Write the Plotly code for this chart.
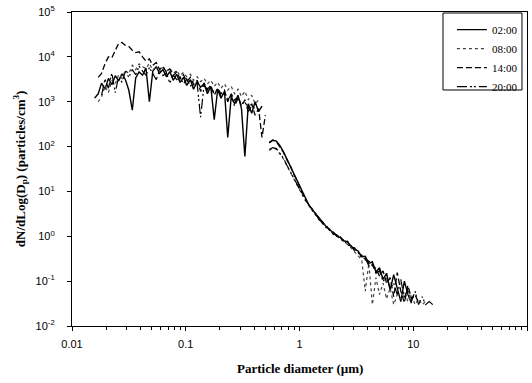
import plotly.graph_objects as go

# Mobility (SMPS) channel diameters, um
d_smps = [0.0158, 0.0170, 0.0182, 0.0195, 0.0209, 0.0224, 0.0240, 0.0257, 0.0275, 0.0295,
          0.0316, 0.0339, 0.0363, 0.0389, 0.0417, 0.0447, 0.0479, 0.0513, 0.0550, 0.0589,
          0.0631, 0.0676, 0.0724, 0.0776, 0.0832, 0.0891, 0.0955, 0.102, 0.110, 0.117,
          0.126, 0.135, 0.145, 0.155, 0.166, 0.178, 0.191, 0.204, 0.219, 0.234,
          0.251, 0.269, 0.288, 0.309, 0.331, 0.355, 0.380, 0.407, 0.437, 0.468, 0.501]

# Aerodynamic (APS) channel diameters, um
d_aps = [0.542, 0.583, 0.626, 0.673, 0.723, 0.777, 0.835, 0.898, 0.965, 1.037,
         1.114, 1.197, 1.286, 1.382, 1.486, 1.596, 1.715, 1.843, 1.981, 2.129,
         2.288, 2.458, 2.642, 2.839, 3.051, 3.278, 3.523, 3.786, 4.068, 4.371,
         4.698, 5.048, 5.425, 5.829, 6.264, 6.732, 7.234, 7.774, 8.354, 8.977,
         9.647, 10.37, 11.14, 11.97, 12.86, 13.82, 14.86]

# dN/dlogDp, particles/cm3
n02_smps = [1200, 1500, 2600, 1900, 3300, 2400, 3800, 2900, 4200, 3100,
            1800, 650, 3400, 4600, 3900, 5600, 1000, 4800, 6000, 4300,
            5200, 3600, 4700, 3000, 4100, 2700, 3500, 2300, 3100, 1900,
            2800, 2100, 2500, 1500, 2200, 400, 1900, 1200, 1700, 160,
            1300, 900, 1400, 700, 60, 900, 550, 1000, 600, 800, None]
n08_smps = [None, 1000, 1300, 2200, 1600, 3000, 2500, 4000, 3300, 5000,
            4200, 6500, 5200, 7000, 6000, 5500, 7200, 5000, 6300, 4500,
            5800, 4800, 5600, 4200, 5000, 3800, 4500, 3600, 4100, 3000,
            3600, 2800, 3300, 2500, 3000, 2200, 2700, 2000, 2500, 1800,
            2200, 1500, 1900, 1300, 1700, 1100, 1400, 900, 1100, None, None]
n14_smps = [None, 3500, 4300, 7000, 10000, 9500, 14000, 20000, 21000, 18000,
            17000, 14000, 12500, 13000, 10000, 8000, 9000, 6500, 7500, 5200,
            6200, 4500, 5400, 3800, 4600, 3200, 4000, 2800, 3500, 2400,
            3000, 1700, 2600, 1900, 2300, 1400, 2000, 1500, 1800, 1000,
            1500, 1100, 1300, 800, 1100, 700, 900, 500, 700, 160, 500]
n20_smps = [None, None, 1400, 3200, 2000, 4400, 1600, 3600, 2700, 4800,
            3500, 5200, 4000, 6200, 4800, 3900, 5800, 4200, 3100, 5000,
            3800, 4400, 2600, 3900, 3100, 3600, 2500, 3200, 2200, 2900,
            2500, 450, 2400, 1800, 2100, 1600, 1900, 1300, 1600, 1100,
            1400, 800, 1200, 900, 1000, 600, 800, 700, None, None, None]

n02_aps = [120, 138, 132, 105, 76, 52, 35, 24, 16, 10.5,
           7.2, 5.2, 4.0, 3.2, 2.5, 2.0, 1.65, 1.4, 1.2, 1.05,
           0.93, 0.80, 0.74, 0.60, 0.52, 0.47, 0.35, 0.36, 0.25, 0.27,
           0.16, 0.20, 0.11, 0.15, 0.063, 0.14, 0.07, 0.035, 0.10, 0.05,
           0.032, None, None, None, None, None, None]
n08_aps = [82, 92, 88, 70, 53, 37, 26, 18, 12.5, 9.0,
           6.5, 5.0, 3.9, 3.1, 2.4, 2.0, 1.6, 1.35, 1.15, 1.0,
           0.88, 0.76, 0.66, 0.55, 0.45, 0.38, 0.30, 0.06, 0.25, 0.03,
           0.12, 0.05, 0.09, 0.04, 0.07, 0.03, 0.05, 0.04, 0.06, 0.035,
           0.05, 0.03, 0.04, 0.03, 0.035, None, None]
n14_aps = [125, 140, 128, 100, 74, 50, 36, 23, 16.5, 10,
           7.5, 5.0, 4.2, 3.0, 2.6, 1.9, 1.75, 1.35, 1.25, 1.0,
           0.97, 0.76, 0.78, 0.57, 0.55, 0.42, 0.38, 0.30, 0.28, 0.22,
           0.19, 0.13, 0.17, 0.09, 0.12, 0.045, 0.155, 0.06, 0.033, 0.08,
           0.04, 0.05, 0.033, None, None, None, None]
n20_aps = [86, 95, 90, 72, 55, 38, 27, 18.5, 13, 9.2,
           6.8, 5.3, 3.8, 3.3, 2.3, 2.1, 1.55, 1.45, 1.1, 1.08,
           0.85, 0.82, 0.64, 0.62, 0.47, 0.44, 0.33, 0.32, 0.22, 0.24,
           0.15, 0.17, 0.10, 0.12, 0.07, 0.09, 0.05, 0.11, 0.04, 0.07,
           0.035, 0.06, 0.03, 0.045, 0.03, 0.035, 0.03]

series = [
    ("02:00", n02_smps, n02_aps, dict(color="black", width=1.4, dash="solid")),
    ("08:00", n08_smps, n08_aps, dict(color="#444444", width=1.2, dash="dot")),
    ("14:00", n14_smps, n14_aps, dict(color="black", width=1.3, dash="6px,3px")),
    ("20:00", n20_smps, n20_aps, dict(color="black", width=1.2, dash="10px,3px,2px,2px,2px,3px")),
]

y_ticks = [1e-2, 1e-1, 1e0, 1e1, 1e2, 1e3, 1e4, 1e5]
y_ticktext = ["10<sup>-2</sup>", "10<sup>-1</sup>", "10<sup>0</sup>", "10<sup>1</sup>",
              "10<sup>2</sup>", "10<sup>3</sup>", "10<sup>4</sup>", "10<sup>5</sup>"]
x_ticks = [0.01, 0.1, 1, 10, 100]
x_ticktext = ["0.01", "0.1", "1", "10", "100"]
x_minor = [m * 10 ** e for e in (-2, -1, 0, 1) for m in range(2, 10)]

fig = go.Figure()
for name, ys, ya, line in series:
    fig.add_trace(go.Scatter(
        x=d_smps + [None] + d_aps,
        y=ys + [None] + ya,
        mode="lines", name=name, line=line, connectgaps=False,
    ))

sans = "Liberation Sans, Arial, sans-serif"
serif = "Liberation Serif, Times New Roman, serif"

fig.update_layout(
    width=532, height=383,
    margin=dict(l=72, r=5, t=12, b=57),
    paper_bgcolor="white", plot_bgcolor="white",
    showlegend=True,
    legend=dict(
        x=0.835, y=0.99, xanchor="left", yanchor="top",
        font=dict(family=serif, size=11, color="black"),
        bgcolor="rgba(0,0,0,0)", borderwidth=0,
        tracegroupgap=0, itemwidth=30,
    ),
    xaxis=dict(
        type="log", range=[-2, 2],
        tickvals=x_ticks, ticktext=x_ticktext,
        ticks="outside", ticklen=4, tickcolor="black",
        minor=dict(tickvals=x_minor, ticks="outside", ticklen=3, tickcolor="black"),
        showline=True, linecolor="black", linewidth=1.2, mirror=True,
        showgrid=False, zeroline=False,
        tickfont=dict(family=sans, size=11, color="black"),
        ticklabelstandoff=4,
    ),
    yaxis=dict(
        type="log", range=[-2, 5],
        tickvals=y_ticks, ticktext=y_ticktext,
        ticks="outside", ticklen=4, tickcolor="black",
        showline=True, linecolor="black", linewidth=1.2, mirror=True,
        showgrid=False, zeroline=False,
        tickfont=dict(family=sans, size=11, color="black"),
        ticklabelstandoff=10,
    ),
    shapes=[dict(type="rect", xref="paper", yref="paper",
                 x0=0.8154, x1=0.989, y0=0.7516, y1=0.9968,
                 line=dict(color="black", width=1), fillcolor="rgba(0,0,0,0)")],
    annotations=[
        dict(text="<b>Particle diameter (\u00b5m)</b>", xref="paper", yref="paper",
             x=0.5, y=-0.134, xanchor="center", yanchor="middle", showarrow=False,
             font=dict(family=serif, size=13, color="black")),
        dict(text="<b>dN/dLog(D<sub>p</sub>) (particles/cm<sup>3</sup>)</b>",
             xref="paper", yref="paper", x=-0.114, y=0.5,
             xanchor="center", yanchor="middle", textangle=-90, showarrow=False,
             font=dict(family=serif, size=13, color="black")),
    ],
)

fig.write_html("out.html")
